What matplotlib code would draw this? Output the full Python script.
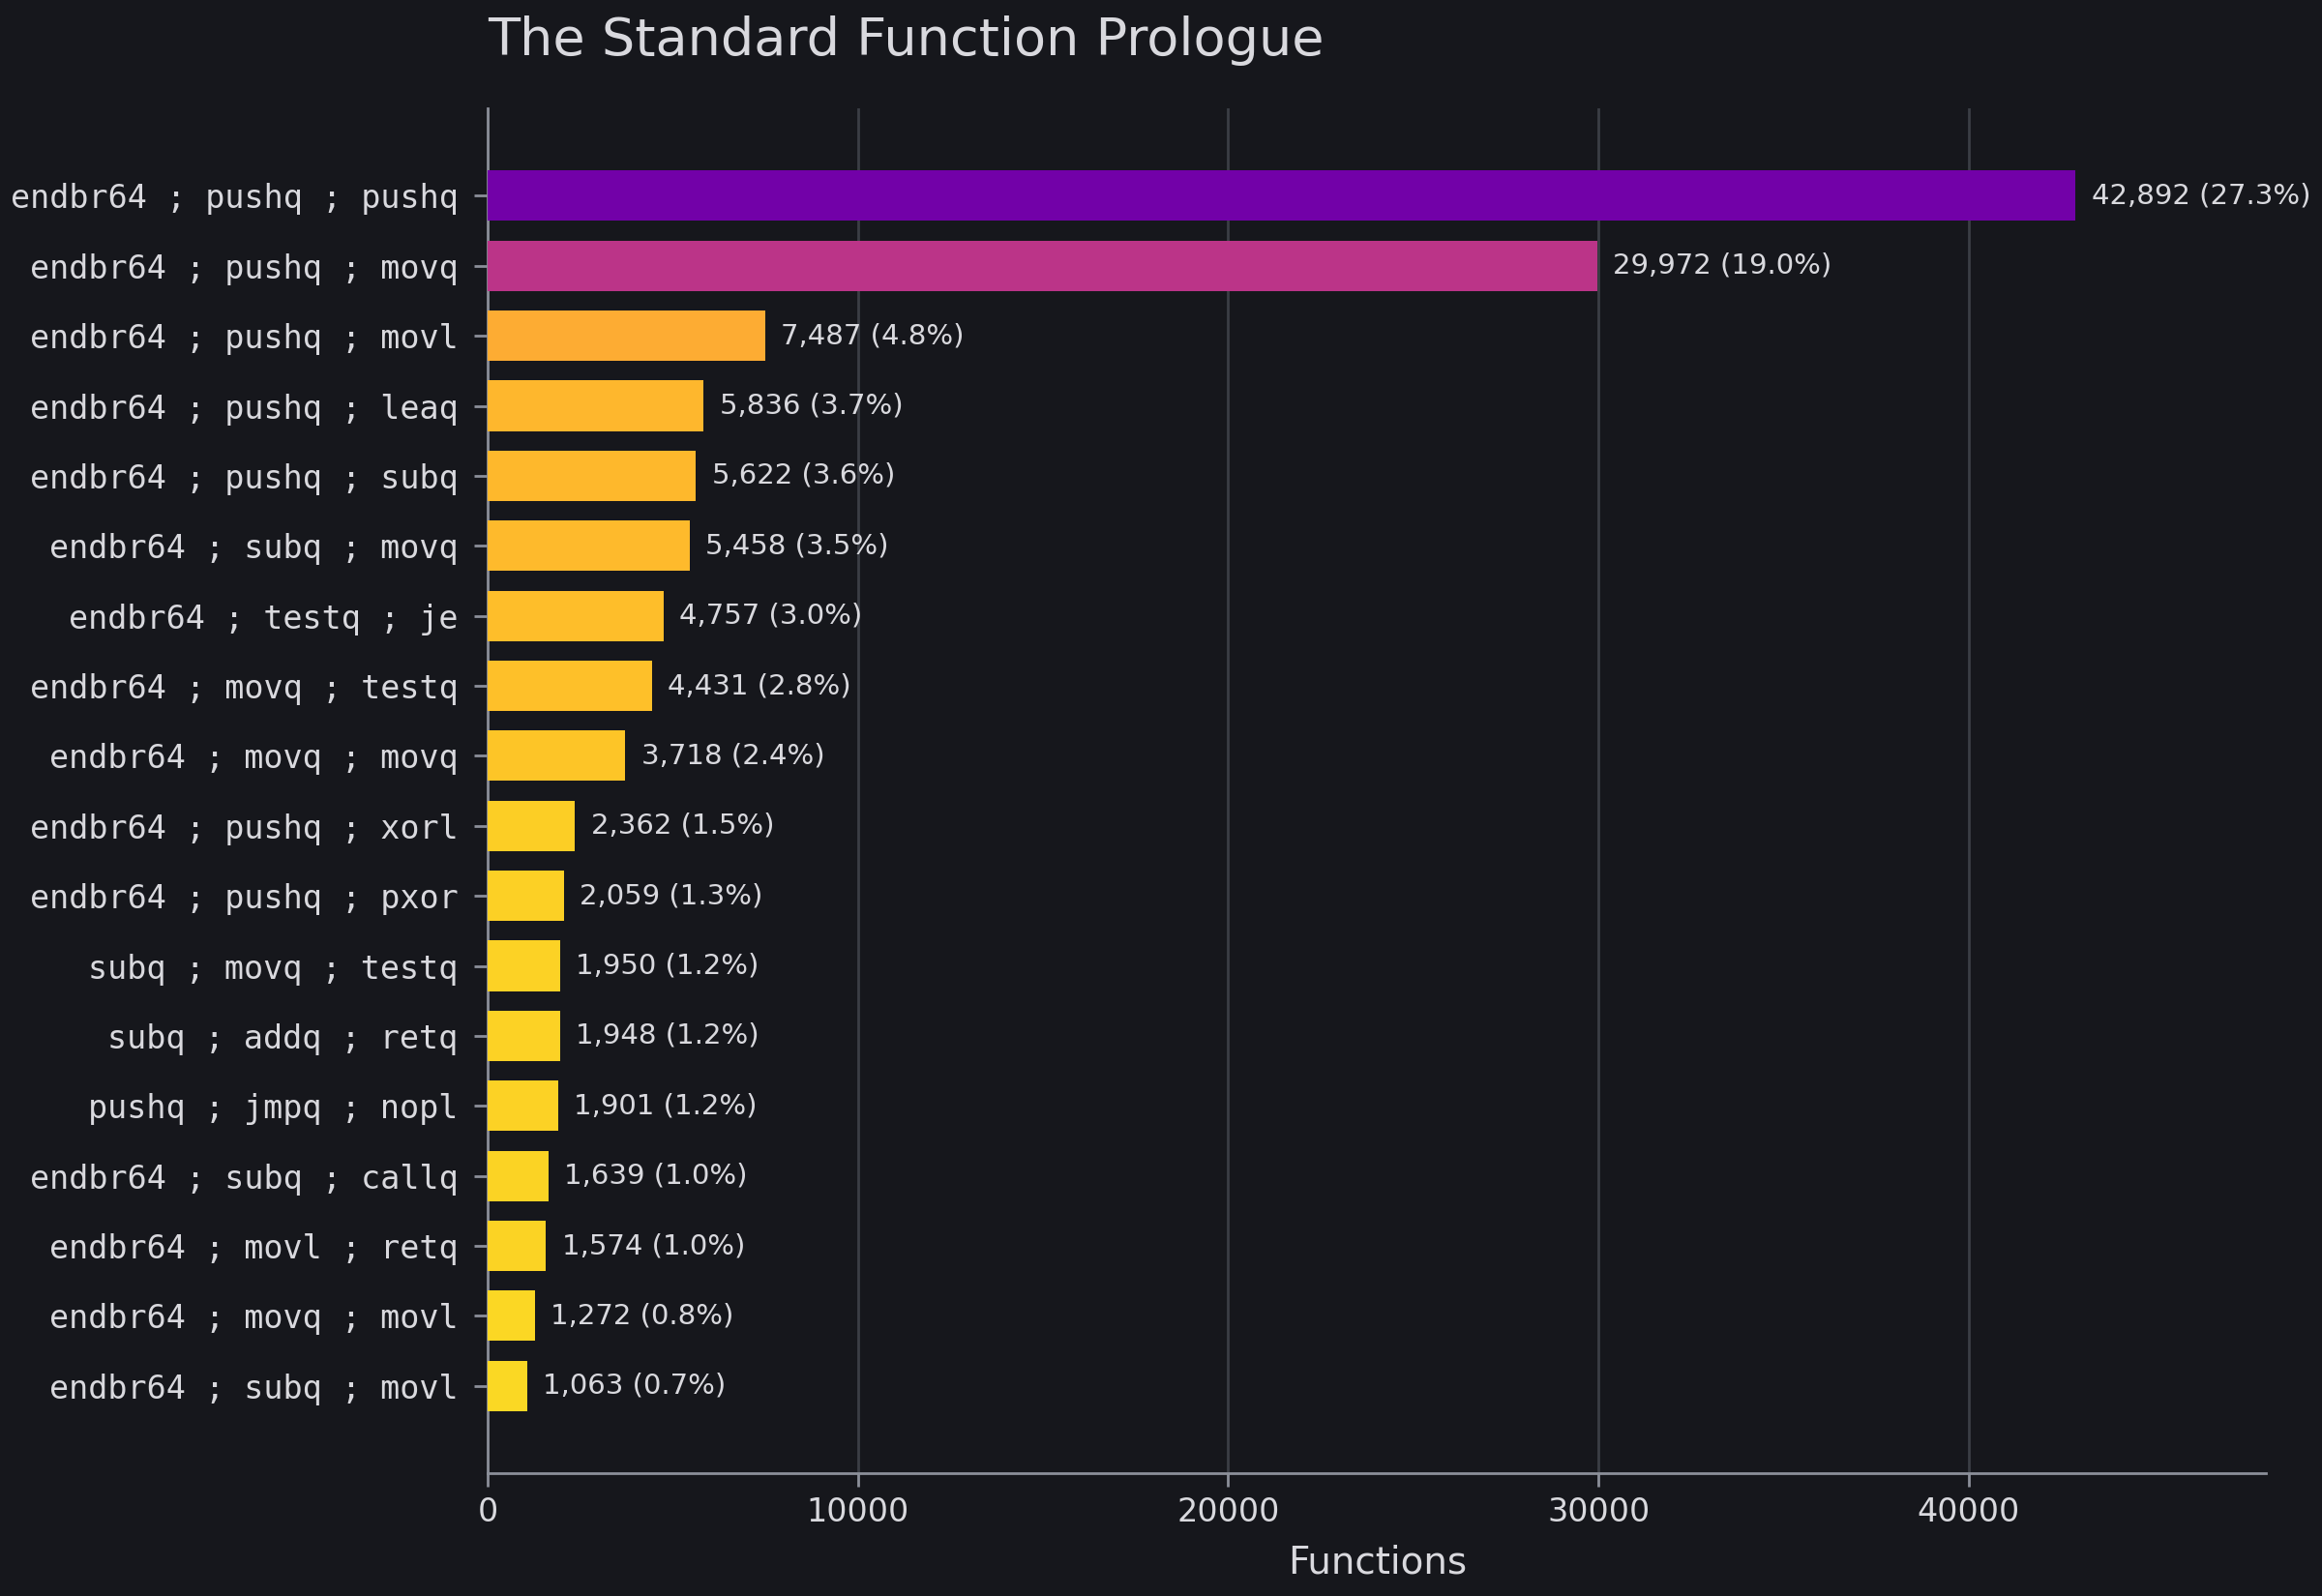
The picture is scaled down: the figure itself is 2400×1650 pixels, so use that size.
import numpy as np
import matplotlib
matplotlib.use("Agg")
import matplotlib.pyplot as plt

prologues = ["endbr64 ; pushq ; pushq", "endbr64 ; pushq ; movq", "endbr64 ; pushq ; movl",
             "endbr64 ; pushq ; leaq", "endbr64 ; pushq ; subq", "endbr64 ; subq ; movq",
             "endbr64 ; testq ; je", "endbr64 ; movq ; testq", "endbr64 ; movq ; movq",
             "endbr64 ; pushq ; xorl", "endbr64 ; pushq ; pxor", "subq ; movq ; testq",
             "subq ; addq ; retq", "pushq ; jmpq ; nopl", "endbr64 ; subq ; callq",
             "endbr64 ; movl ; retq", "endbr64 ; movq ; movl", "endbr64 ; subq ; movl"]
counts = [42892, 29972, 7487, 5836, 5622, 5458, 4757, 4431, 3718,
          2362, 2059, 1950, 1948, 1901, 1639, 1574, 1272, 1063]
pcts = [27.3, 19.0, 4.8, 3.7, 3.6, 3.5, 3.0, 2.8, 2.4,
        1.5, 1.3, 1.2, 1.2, 1.2, 1.0, 1.0, 0.8, 0.7]

bg = "#16171c"
fg = "#d9d9de"
spine = "#8b8f99"

counts = np.array(counts)
top = counts.max()
colors = plt.cm.plasma(0.22 + 0.72 * (1 - counts / top))

fig, ax = plt.subplots(figsize=(12, 8.25), dpi=200)
fig.patch.set_facecolor(bg)
ax.set_facecolor(bg)

y = np.arange(len(prologues))
ax.barh(y, counts, height=0.72, color=colors, zorder=3)
ax.invert_yaxis()
ax.set_yticks(y)
ax.set_yticklabels(prologues, family="DejaVu Sans Mono", fontsize=12, color=fg)

for yi, c, p in zip(y, counts, pcts):
    ax.text(c + top * 0.01, yi, f"{c:,} ({p:.1f}%)", va="center", ha="left",
            fontsize=10.5, color=fg, zorder=4)

ax.set_xlim(0, top * 1.12)
ax.grid(axis="x", color="#3b3e45", linewidth=1, zorder=0)
ax.grid(axis="y", visible=False)
for s in ["top", "right"]:
    ax.spines[s].set_visible(False)
for s in ["left", "bottom"]:
    ax.spines[s].set_color(spine)
    ax.spines[s].set_linewidth(1)
ax.tick_params(axis="both", colors=spine, labelcolor=fg, length=5, width=1)
ax.tick_params(axis="y", pad=6)
ax.tick_params(axis="x", labelsize=12)

ax.set_xlabel("Functions", fontsize=14, color=fg, labelpad=6)
ax.set_title("The Standard Function Prologue", loc="left", fontsize=19.5, color=fg, pad=20)

fig.subplots_adjust(left=0.21, right=0.976, top=0.932, bottom=0.077)
fig.savefig("out.png", dpi=200, facecolor=bg)
